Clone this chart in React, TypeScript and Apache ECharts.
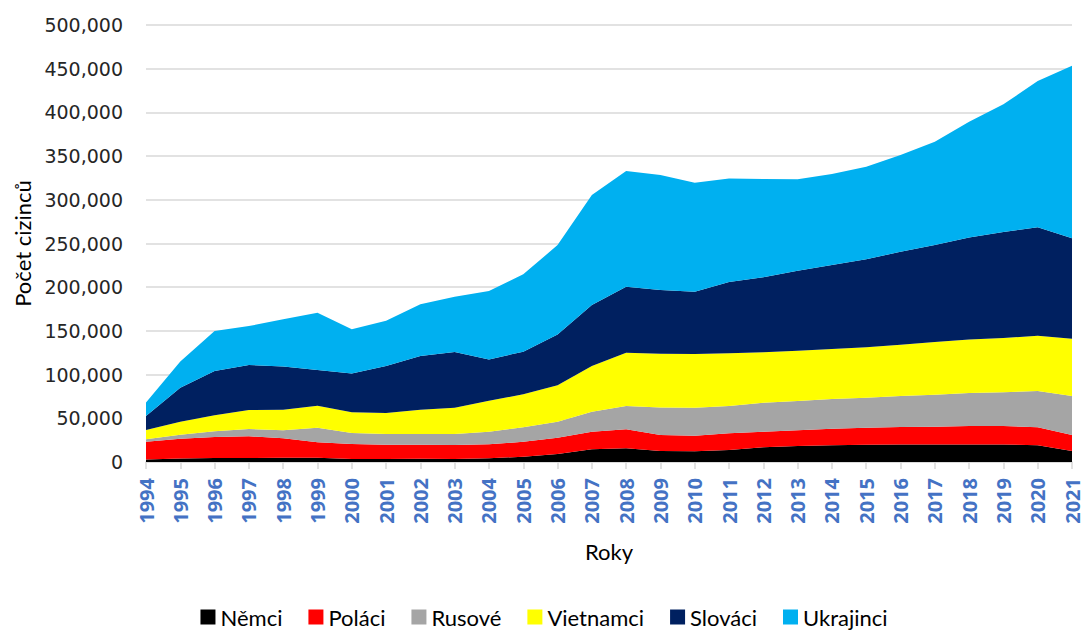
import React, { useEffect, useRef } from "react";
import * as echarts from "echarts";

const years = [
  "1994", "1995", "1996", "1997", "1998", "1999", "2000", "2001", "2002", "2003",
  "2004", "2005", "2006", "2007", "2008", "2009", "2010", "2011", "2012", "2013",
  "2014", "2015", "2016", "2017", "2018", "2019", "2020", "2021",
];

const nemci = [
  3000, 4000, 4500, 4500, 5000, 5000, 3500, 3500, 3800, 3500,
  4200, 6100, 9200, 14500, 15600, 12600, 12200, 13700, 16800, 18300,
  19100, 19800, 20000, 20000, 20000, 20000, 19100, 12600,
];
const polaci = [
  20200, 22700, 24100, 24900, 22100, 17500, 17100, 16300, 16000, 15900,
  16000, 17100, 18600, 20200, 21800, 18300, 17900, 19100, 17900, 17900,
  19000, 19500, 20000, 20400, 21200, 21200, 20600, 18300,
];
const rusove = [
  2800, 4500, 6500, 8400, 9100, 16800, 12600, 12200, 12200, 12600,
  14500, 16500, 18300, 22900, 26700, 31600, 32000, 31300, 33100, 33600,
  34000, 34300, 35500, 36600, 37700, 38500, 41500, 44600,
];
const vietnamci = [
  10600, 14900, 18300, 21700, 23700, 25100, 23600, 24000, 27900, 30000,
  35500, 37700, 41600, 52200, 61000, 61400, 61500, 60200, 57700, 57600,
  57200, 57600, 58700, 60300, 61400, 62200, 63300, 65600,
];
const slovaci = [
  16000, 38900, 50700, 51500, 49500, 40800, 44600, 53800, 61400, 64000,
  47200, 48800, 58300, 69800, 75500, 72900, 71300, 81700, 85800, 91500,
  96100, 100700, 106400, 110900, 116700, 121200, 124000, 114800,
];
const ukrajinci = [
  15400, 30000, 45900, 44600, 53800, 65600, 50400, 51900, 59100, 63000,
  78200, 88500, 102200, 125800, 132300, 131500, 124700, 118500, 112500, 104500,
  104100, 106000, 110600, 118300, 132300, 146100, 167400, 197500,
];

const seriesNames = ["Němci", "Poláci", "Rusové", "Vietnamci", "Slováci", "Ukrajinci"];
const seriesColors = ["#000000", "#FF0000", "#A5A5A5", "#FFFF00", "#002060", "#00B0F0"];
const seriesData = [nemci, polaci, rusove, vietnamci, slovaci, ukrajinci];

export default function App() {
  const ref = useRef<HTMLDivElement>(null);
  useEffect(() => {
    document.body.style.margin = "0";
    if (!ref.current) return;
    const chart = echarts.init(ref.current, undefined, { renderer: "svg" });
    chart.setOption({
      animation: false,
      backgroundColor: "#ffffff",
      grid: { left: 146, right: 16, top: 25, bottom: 170, containLabel: false },
      legend: {
        data: seriesNames,
        left: "center",
        top: 601,
        icon: "rect",
        itemWidth: 15,
        itemHeight: 15,
        itemGap: 26,
        textStyle: { fontFamily: "Lato", fontSize: 22, color: "#000000", padding: [0, 0, 0, 0] },
      },
      xAxis: {
        type: "category",
        data: years,
        boundaryGap: false,
        name: "Roky",
        nameLocation: "middle",
        nameGap: 78,
        nameTextStyle: { fontFamily: "Lato", fontSize: 22, color: "#000000" },
        axisLine: { lineStyle: { color: "#D9D9D9", width: 1.5 } },
        axisTick: { show: true, length: 7, lineStyle: { color: "#D9D9D9", width: 1.5 } },
        axisLabel: {
          rotate: 90,
          margin: 16,
          fontFamily: "Open Sans",
          fontWeight: "bold",
          fontSize: 20,
          lineHeight: 16,
          color: "#4472C4",
          interval: 0,
        },
        splitLine: { show: false },
      },
      yAxis: {
        type: "value",
        min: 0,
        max: 500000,
        interval: 50000,
        name: "Počet cizinců",
        nameLocation: "middle",
        nameGap: 112,
        nameTextStyle: { fontFamily: "Lato", fontSize: 22, color: "#000000" },
        axisLine: { show: false },
        axisTick: { show: false },
        axisLabel: {
          margin: 23,
          fontFamily: "DejaVu Sans",
          fontSize: 19,
          color: "#262626",
          formatter: (v: number) => v.toLocaleString("en-US"),
        },
        splitLine: { lineStyle: { color: "#D9D9D9", width: 1.5 } },
      },
      series: seriesNames.map((name, i) => ({
        name,
        type: "line",
        stack: "total",
        data: seriesData[i],
        showSymbol: false,
        symbol: "none",
        lineStyle: { width: 0 },
        itemStyle: { color: seriesColors[i] },
        areaStyle: { color: seriesColors[i], opacity: 1 },
        emphasis: { disabled: true },
      })),
    });
    return () => chart.dispose();
  }, []);
  return <div ref={ref} style={{ width: 1088, height: 632 }} />;
}
